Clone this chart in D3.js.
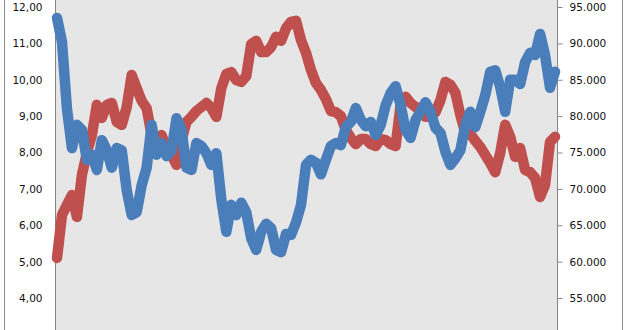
<!DOCTYPE html>
<html>
<head>
<meta charset="utf-8">
<script src="https://cdn.jsdelivr.net/npm/d3@7"></script>
<style>
  body { margin: 0; background: #fff; }
  svg { display: block; }
</style>
</head>
<body>
<script>
var days = d3.range(0, 101);

var redValues = [
    5.10, 6.28, 6.56, 6.83, 6.23, 7.38, 7.99, 8.48, 9.31, 8.95,
    9.31, 9.36, 8.84, 8.76, 9.25, 10.13, 9.77, 9.42, 9.22, 8.48,
    8.12, 8.48, 8.12, 7.93, 7.66, 8.34, 8.84, 8.98, 9.14, 9.25,
    9.36, 9.22, 8.98, 9.77, 10.16, 10.21, 9.99, 9.94, 10.10, 10.98,
    11.07, 10.76, 10.76, 10.90, 11.18, 11.07, 11.42, 11.59, 11.62, 11.09,
    10.74, 10.27, 9.91, 9.72, 9.47, 9.14, 9.11, 9.00, 8.62, 8.40,
    8.23, 8.37, 8.37, 8.23, 8.18, 8.37, 8.34, 8.23, 8.18, 9.31,
    9.53, 9.36, 9.25, 9.22, 8.98, 8.98, 9.11, 9.44, 9.94, 9.86,
    9.64, 9.03, 8.54, 8.51, 8.32, 8.15, 7.93, 7.71, 7.46, 7.99,
    8.76, 8.43, 7.88, 8.12, 7.52, 7.46, 7.30, 6.78, 7.11, 8.29,
    8.43
];

var blueValues = [
    93500, 90200, 81000, 75600, 78800, 78100, 74000, 74700, 72600, 76700,
    75300, 72900, 75600, 75300, 69800, 66400, 66800, 70500, 72900, 78800,
    74700, 76300, 74500, 75300, 79700, 78100, 72900, 72600, 76300, 75900,
    74900, 73300, 74900, 68500, 64100, 67800, 66400, 68100, 66800, 63200,
    61600, 64100, 65200, 64600, 61600, 61300, 63800, 63700, 65400, 67800,
    73300, 74000, 73600, 72000, 74000, 75900, 76300, 76000, 78500, 79200,
    81100, 79500, 78600, 79200, 77400, 78800, 81500, 83200, 84100, 81500,
    78100, 77000, 79500, 80600, 81900, 80600, 78400, 77700, 75100, 73300,
    74200, 75300, 78800, 80600, 78500, 80600, 82900, 86100, 86300, 84000,
    80600, 85000, 85000, 84400, 87400, 88700, 88400, 91300, 88400, 83900,
    86100
];

var leftTicks = [4, 5, 6, 7, 8, 9, 10, 11, 12];
var rightTicks = [55000, 60000, 65000, 70000, 75000, 80000, 85000, 90000, 95000];

var width = 628,
    height = 330;

var plotLeft = 55.5,
    plotRight = 557.5;

var svg = d3.select("body").append("svg")
    .attr("width", width)
    .attr("height", height);

var x = d3.scaleLinear()
    .domain([0, 100])
    .range([57, 555]);

var yLeft = d3.scaleLinear()
    .domain([4, 12])
    .range([298, 7]);

var yRight = d3.scaleLinear()
    .domain([55000, 95000])
    .range([298, 7]);

// outer chart border (only the sides show in this crop)
svg.append("line")
    .attr("x1", 4.5).attr("x2", 4.5)
    .attr("y1", 0).attr("y2", height)
    .attr("stroke", "#8c8c8c");
svg.append("line")
    .attr("x1", 622.5).attr("x2", 622.5)
    .attr("y1", 0).attr("y2", height)
    .attr("stroke", "#8c8c8c");

// plot area
svg.append("rect")
    .attr("x", plotLeft)
    .attr("y", 0)
    .attr("width", plotRight - plotLeft)
    .attr("height", height)
    .attr("fill", "#e6e6e6");

var locale = d3.formatLocale({ decimal: ",", thousands: ".", grouping: [3], currency: ["", ""] });
var fmtLeft = locale.format(",.2f");
var fmtRight = locale.format(",.0f");

var leftAxis = svg.append("g")
    .attr("transform", "translate(" + plotLeft + ",0)")
    .call(d3.axisLeft(yLeft).tickValues(leftTicks).tickSize(0).tickPadding(13).tickFormat(fmtLeft));

var rightAxis = svg.append("g")
    .attr("transform", "translate(" + plotRight + ",0)")
    .call(d3.axisRight(yRight).tickValues(rightTicks).tickSize(5).tickPadding(7).tickFormat(fmtRight));

[leftAxis, rightAxis].forEach(function (g) {
    g.select(".domain").remove();
    g.selectAll("line").attr("stroke", "#868686");
    g.selectAll("text")
        .attr("font-family", "DejaVu Sans, sans-serif")
        .attr("font-size", "10.5px")
        .attr("fill", "#111");
});

// axis lines running the full height
svg.append("line")
    .attr("x1", plotLeft).attr("x2", plotLeft)
    .attr("y1", 0).attr("y2", height)
    .attr("stroke", "#868686");
svg.append("line")
    .attr("x1", plotRight).attr("x2", plotRight)
    .attr("y1", 0).attr("y2", height)
    .attr("stroke", "#868686");

var redLine = d3.line()
    .x(function (d, i) { return x(days[i]); })
    .y(function (d) { return yLeft(d); });

var blueLine = d3.line()
    .x(function (d, i) { return x(days[i]); })
    .y(function (d) { return yRight(d); });

svg.append("path")
    .datum(redValues)
    .attr("d", redLine)
    .attr("fill", "none")
    .attr("stroke", "#c0504d")
    .attr("stroke-width", 10.5)
    .attr("stroke-linejoin", "round")
    .attr("stroke-linecap", "round");

svg.append("path")
    .datum(blueValues)
    .attr("d", blueLine)
    .attr("fill", "none")
    .attr("stroke", "#4a7ebb")
    .attr("stroke-width", 10.5)
    .attr("stroke-linejoin", "round")
    .attr("stroke-linecap", "round");
</script>
</body>
</html>
